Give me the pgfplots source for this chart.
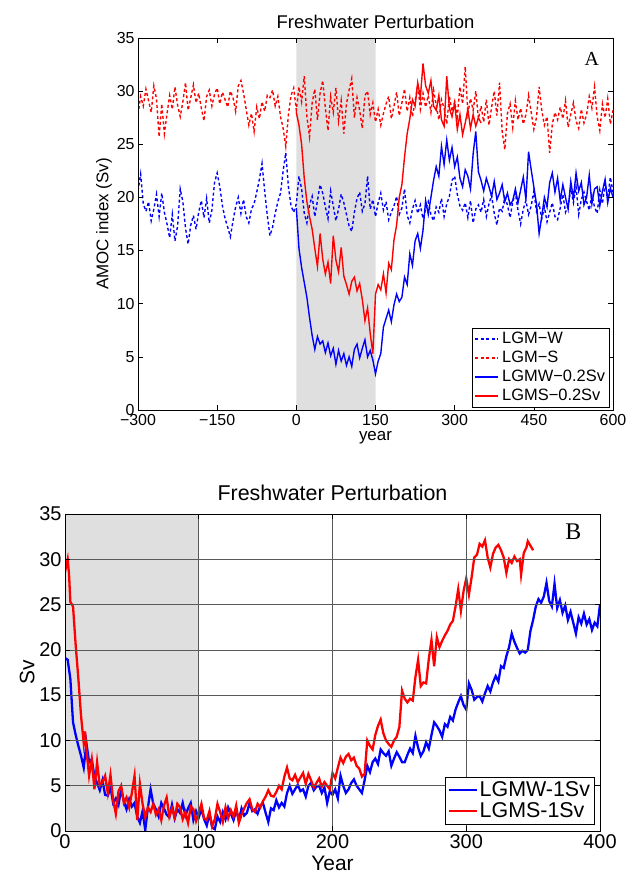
\documentclass[border=0pt]{standalone}
\usepackage{fontspec}
\setmainfont{Liberation Sans}
\newfontfamily\serifletter{Liberation Serif}
\usepackage{pgfplots}
\pgfplotsset{compat=1.18}
\definecolor{shade}{gray}{0.875}
\definecolor{mblue}{rgb}{0,0,1}
\definecolor{mred}{rgb}{1,0,0}

\begin{document}
\begin{tikzpicture}
\useasboundingbox (0bp,0bp) rectangle (631bp,875bp);

% ---------------- panel A ----------------
\begin{axis}[
  at={(138bp,465bp)}, anchor=south west,
  scale only axis, width=475bp, height=372bp,
  xmin=-300, xmax=600, ymin=0, ymax=35,
  xtick={-300,-150,0,150,300,450,600},
  xticklabels={−300,−150,0,150,300,450,600},
  ytick={0,5,...,35},
  tick align=inside, major tick length=5bp,
  axis line style={line width=0.8pt}, every tick/.style={black, line width=0.6pt},
  /pgf/number format/assume math mode=true,
  tick label style={font=\fontsize{16}{18}\selectfont},
  xticklabel style={yshift=-1bp},
  title={Freshwater Perturbation},
  title style={font=\fontsize{18.5}{20}\selectfont, yshift=0bp},
  xlabel={year}, ylabel={AMOC index (Sv)},
  label style={font=\fontsize{17}{19}\selectfont},
  xlabel style={yshift=1bp}, ylabel style={yshift=-2bp},
  axis on top,
  legend cell align=left,
  legend style={at={(rel axis cs:0.993,0.008)}, anchor=south east,
    font=\fontsize{16.5}{18}\selectfont, row sep=2bp, inner sep=2.5bp,
    /tikz/every odd column/.append style={column sep=1bp}},
  legend image code/.code={\draw[#1, line width=1.6bp] (0bp,0bp) -- (23bp,0bp);},
]
\addplot[fill=shade, draw=none, forget plot] coordinates {(0,0) (0,35) (150,35) (150,0)} \closedcycle;

% LGM-W
\addplot[draw=mblue, line width=1.4pt, dash pattern=on 3bp off 2.5bp] coordinates {
(-300,20.6)(-295,22.2)(-290,19.4)(-285,18.7)(-280,19.6)(-275,17.8)(-270,18.9)(-265,20.3)(-260,18.2)(-255,20.4)
(-250,18.6)(-245,17.5)(-240,16.2)(-235,18.4)(-230,15.9)(-225,17.3)(-220,20.8)(-215,19.6)(-210,17.1)(-205,15.6)
(-200,17.4)(-195,18.3)(-190,17.0)(-185,18.6)(-180,19.7)(-175,18.1)(-170,19.9)(-165,17.6)(-160,18.8)(-155,21.4)
(-150,22.3)(-145,21.0)(-140,19.2)(-135,18.0)(-130,17.2)(-125,16.3)(-120,17.8)(-115,19.1)(-110,20.0)(-105,18.5)
(-100,19.8)(-95,18.2)(-90,17.6)(-85,18.9)(-80,19.4)(-75,20.5)(-70,21.7)(-65,23.2)(-60,20.6)(-55,18.3)
(-50,16.4)(-45,17.2)(-40,18.5)(-35,19.6)(-30,20.4)(-25,22.5)(-20,24.2)(-15,21.0)(-10,19.2)(-5,18.6)
(0,19.4)(5,22.0)(10,20.8)(15,18.5)(20,17.6)(25,19.3)(30,20.1)(35,18.2)(40,19.7)(45,21.2)
(50,20.4)(55,19.1)(60,18.0)(65,20.6)(70,19.2)(75,17.8)(80,18.9)(85,20.3)(90,19.5)(95,18.4)
(100,17.3)(105,16.8)(110,18.6)(115,19.9)(120,20.5)(125,18.7)(130,19.4)(135,22.0)(140,18.9)(145,19.8)
(150,18.2)(155,19.5)(160,20.4)(165,18.8)(170,19.6)(175,17.9)(180,18.6)(185,19.2)(190,20.1)(195,18.4)
(200,19.0)(205,20.8)(210,18.3)(215,17.6)(220,18.9)(225,19.7)(230,18.5)(235,19.3)(240,18.0)(245,18.9)
(250,19.6)(255,18.4)(260,17.8)(265,19.1)(270,18.6)(275,19.9)(280,18.2)(285,19.4)(290,20.1)(295,21.6)
(300,22.0)(305,20.3)(310,19.2)(315,18.8)(320,19.5)(325,18.1)(330,19.7)(335,17.6)(340,18.9)(345,19.3)
(350,18.6)(355,19.8)(360,18.2)(365,19.4)(370,20.2)(375,18.5)(380,17.4)(385,19.0)(390,18.7)(395,20.0)
(400,19.3)(405,18.1)(410,19.6)(415,20.4)(420,18.8)(425,17.5)(430,18.9)(435,19.7)(440,18.4)(445,19.2)
(450,20.6)(455,18.7)(460,19.4)(465,18.0)(470,19.1)(475,17.7)(480,18.6)(485,19.5)(490,18.2)(495,17.9)
(500,19.0)(505,20.3)(510,18.6)(515,19.2)(520,20.8)(525,19.5)(530,21.0)(535,18.4)(540,19.8)(545,20.5)
(550,19.6)(555,18.8)(560,20.2)(565,19.1)(570,18.5)(575,20.7)(580,19.4)(585,21.3)(590,20.0)(595,21.9)(600,20.5)
};
\addlegendentry{LGM−W}

% LGM-S
\addplot[draw=mred, line width=1.4pt, dash pattern=on 3bp off 2.5bp] coordinates {
(-300,27.8)(-295,29.5)(-290,28.6)(-285,30.2)(-280,29.1)(-275,28.0)(-270,30.5)(-265,29.3)(-260,25.7)(-255,28.8)
(-250,26.0)(-245,27.9)(-240,29.6)(-235,28.3)(-230,30.4)(-225,28.7)(-220,27.6)(-215,29.0)(-210,30.8)(-205,28.2)
(-200,29.4)(-195,30.6)(-190,28.9)(-185,29.8)(-180,28.4)(-175,27.2)(-170,29.5)(-165,30.1)(-160,28.6)(-155,29.7)
(-150,30.3)(-145,28.8)(-140,29.9)(-135,29.2)(-130,28.5)(-125,30.0)(-120,29.4)(-115,28.1)(-110,30.5)(-105,31.0)
(-100,29.8)(-95,28.3)(-90,26.8)(-85,27.9)(-80,26.2)(-75,28.5)(-70,27.4)(-65,29.0)(-60,28.1)(-55,29.6)
(-50,29.4)(-45,30.1)(-40,28.6)(-35,29.5)(-30,27.6)(-25,26.5)(-20,24.8)(-15,27.8)(-10,29.6)(-5,30.3)
(0,28.2)(5,30.4)(10,29.0)(15,31.4)(20,27.6)(25,25.7)(30,28.9)(35,30.2)(40,27.3)(45,29.8)
(50,31.0)(55,28.4)(60,26.3)(65,29.5)(70,28.0)(75,30.3)(80,27.2)(85,29.1)(90,26.0)(95,28.8)
(100,30.1)(105,31.2)(110,27.5)(115,29.4)(120,28.2)(125,26.5)(130,29.6)(135,30.0)(140,27.8)(145,28.9)
(150,27.1)(155,28.3)(160,26.8)(165,27.9)(170,28.8)(175,29.5)(180,27.4)(185,28.6)(190,29.9)(195,27.7)
(200,28.9)(205,30.2)(210,28.1)(215,29.4)(220,27.6)(225,29.0)(230,30.6)(235,28.3)(240,29.8)(245,28.5)
(250,29.6)(255,28.0)(260,30.1)(265,28.7)(270,27.3)(275,29.2)(280,28.4)(285,26.9)(290,29.5)(295,28.1)
(300,29.0)(305,27.6)(310,30.4)(315,28.8)(320,32.3)(325,27.9)(330,29.3)(335,28.2)(340,30.0)(345,27.4)
(350,28.6)(355,27.1)(360,29.2)(365,26.8)(370,28.5)(375,30.0)(380,27.7)(385,30.8)(390,26.2)(395,24.5)
(400,27.9)(405,28.8)(410,26.6)(415,29.1)(420,27.3)(425,28.4)(430,26.9)(435,27.8)(440,29.6)(445,28.0)
(450,26.4)(455,27.5)(460,30.4)(465,28.2)(470,26.8)(475,27.6)(480,24.2)(485,26.9)(490,28.0)(495,27.3)
(500,28.5)(505,27.4)(510,29.1)(515,26.6)(520,27.8)(525,28.9)(530,27.2)(535,26.5)(540,28.3)(545,27.0)
(550,27.8)(555,29.5)(560,28.4)(565,30.4)(570,27.6)(575,26.3)(580,28.8)(585,27.5)(590,29.3)(595,26.9)(600,28.2)
};
\addlegendentry{LGM−S}

% LGMW-0.2Sv
\addplot[draw=mblue, line width=1.4pt] coordinates {
(0,19.0)(5,15.2)(10,13.4)(15,12.0)(20,10.6)(25,8.7)(30,7.0)(35,5.7)(40,6.9)(45,6.2)
(50,6.5)(55,5.4)(60,6.3)(65,5.1)(70,5.8)(75,4.3)(80,5.6)(85,4.6)(90,5.3)(95,4.2)
(100,5.0)(105,4.1)(110,5.7)(115,6.2)(120,4.9)(125,5.8)(130,6.6)(135,5.0)(140,5.6)(145,4.7)
(150,3.4)(155,4.6)(160,5.3)(165,7.8)(170,8.6)(175,9.4)(180,8.3)(185,9.9)(190,10.9)(195,10.2)
(200,10.6)(205,12.5)(210,11.8)(215,14.7)(220,13.6)(225,15.9)(230,16.6)(235,15.2)(240,16.9)(245,19.7)
(250,18.4)(255,20.0)(260,21.6)(265,22.9)(270,22.0)(275,24.8)(280,23.1)(285,25.4)(290,23.5)(295,24.7)
(300,22.9)(305,23.8)(310,21.8)(315,21.0)(320,22.6)(325,22.0)(330,20.8)(335,24.1)(340,26.2)(345,22.4)
(350,21.6)(355,20.6)(360,21.8)(365,21.0)(370,20.1)(375,21.5)(380,19.8)(385,20.4)(390,21.2)(395,19.6)
(400,20.4)(405,19.3)(410,19.7)(415,20.8)(420,19.5)(425,20.7)(430,21.9)(435,19.8)(440,24.3)(445,22.6)
(450,21.0)(455,19.4)(460,16.6)(465,18.2)(470,20.0)(475,19.1)(480,21.4)(485,22.3)(490,20.5)(495,21.8)
(500,19.7)(505,21.2)(510,20.0)(515,18.9)(520,21.5)(525,19.9)(530,22.3)(535,20.6)(540,21.4)(545,19.3)
(550,20.0)(555,22.1)(560,19.4)(565,20.8)(570,21.0)(575,19.2)(580,20.6)(585,21.7)(590,19.5)(595,20.9)(600,20.0)
};
\addlegendentry{LGMW−0.2Sv}

% LGMS-0.2Sv
\addplot[draw=mred, line width=1.4pt] coordinates {
(0,28.0)(5,26.8)(10,25.0)(15,21.8)(20,19.6)(25,18.2)(30,17.0)(35,15.2)(40,13.5)(45,16.6)
(50,14.2)(55,12.8)(60,13.9)(65,11.9)(70,16.4)(75,14.1)(80,13.0)(85,15.3)(90,12.6)(95,11.8)
(100,10.9)(105,12.1)(110,12.5)(115,11.2)(120,11.9)(125,10.4)(130,8.4)(135,9.6)(140,7.2)(145,5.3)
(150,10.9)(155,11.8)(160,11.3)(165,12.8)(170,11.0)(175,13.8)(180,13.2)(185,16.0)(190,17.4)(195,20.0)
(200,21.2)(205,23.8)(210,26.0)(215,27.4)(220,29.2)(225,28.6)(230,30.8)(235,29.4)(240,32.6)(245,30.5)
(250,29.8)(255,31.0)(260,28.6)(265,28.2)(270,29.6)(275,27.3)(280,26.7)(285,31.4)(290,28.4)(295,27.6)
(300,28.9)(305,26.4)(310,27.8)(315,25.9)(320,27.0)(325,28.3)(330,26.5)(335,27.8)(340,26.7)(345,27.5)(350,27.0)
};
\addlegendentry{LGMS−0.2Sv}

\node[font=\serifletter\fontsize{20}{22}\selectfont] at (axis cs:560,33.0) {A};
\end{axis}

% ---------------- panel B ----------------
\begin{axis}[
  at={(65bp,44bp)}, anchor=south west,
  scale only axis, width=535bp, height=317bp,
  xmin=0, xmax=400, ymin=0, ymax=35,
  xtick={0,100,...,400}, ytick={0,5,...,35},
  grid=major, grid style={gray!70!black, line width=0.6pt},
  tick align=inside, major tick length=5bp,
  axis line style={line width=0.8pt}, every tick/.style={black, line width=0.6pt},
  /pgf/number format/assume math mode=true,
  tick label style={font=\fontsize{20}{22}\selectfont},
  title={Freshwater Perturbation},
  title style={font=\fontsize{21.5}{23}\selectfont, yshift=4bp},
  xlabel={Year}, ylabel={Sv},
  label style={font=\fontsize{21}{23}\selectfont},
  xlabel style={yshift=-1bp}, ylabel style={yshift=-2bp},
  axis on top,
  legend cell align=left,
  legend style={at={(rel axis cs:0.99,0.022)}, anchor=south east,
    font=\fontsize{21.5}{23}\selectfont, row sep=1bp, inner sep=2.5bp},
  legend image code/.code={\draw[#1] (0bp,0bp) -- (28bp,0bp);},
]
\addplot[fill=shade, draw=none, forget plot] coordinates {(0,0) (0,35) (100,35) (100,0)} \closedcycle;

% LGMW-1Sv
\addplot[draw=mblue, line width=2.3pt] coordinates {
(0,19.1)(2,18.9)(4,16.8)(6,12.0)(8,10.6)(10,9.4)(12,8.3)(14,7.0)(16,9.7)(18,7.6)
(20,7.9)(22,6.0)(24,5.3)(26,4.5)(28,5.6)(30,4.0)(32,3.9)(34,4.8)(36,3.1)(38,3.6)
(40,2.9)(42,4.6)(44,3.3)(46,2.4)(48,3.5)(50,2.7)(52,3.1)(54,1.6)(56,0.9)(58,2.2)
(60,0.1)(62,2.6)(64,4.6)(66,3.0)(68,2.4)(70,1.6)(72,3.1)(74,2.5)(76,1.8)(78,1.5)
(80,2.9)(82,1.4)(84,2.4)(86,2.0)(88,3.1)(90,1.7)(92,2.5)(94,3.1)(96,1.2)(98,2.2)
(100,1.5)(102,2.4)(104,1.3)(106,0.6)(108,1.9)(110,0.4)(112,0.2)(114,1.6)(116,1.0)(118,2.1)
(120,1.3)(122,2.6)(124,1.9)(126,1.2)(128,2.3)(130,1.2)(132,2.5)(134,1.7)(136,2.0)(138,3.1)
(140,2.2)(142,2.4)(144,1.9)(146,2.8)(148,3.1)(150,2.0)(152,1.0)(154,2.5)(156,2.3)(158,3.4)
(160,2.6)(162,3.1)(164,2.7)(166,4.2)(168,5.0)(170,4.1)(172,4.6)(174,5.1)(176,4.4)(178,4.6)
(180,3.8)(182,5.0)(184,5.3)(186,4.5)(188,4.9)(190,5.0)(192,4.2)(194,4.8)(196,3.1)(198,4.4)
(200,4.0)(202,4.6)(204,3.6)(206,6.1)(208,5.0)(210,4.2)(212,4.6)(214,5.3)(216,5.7)(218,5.0)
(220,4.6)(222,4.2)(224,5.6)(226,7.2)(228,6.5)(230,7.6)(232,8.0)(234,7.4)(236,9.0)(238,8.6)
(240,8.3)(242,8.8)(244,7.2)(246,8.0)(248,8.7)(250,8.2)(252,7.6)(254,7.6)(256,8.4)(258,9.1)
(260,8.6)(262,10.5)(264,9.2)(266,8.3)(268,8.8)(270,9.8)(272,9.1)(274,10.6)(276,12.0)(278,11.6)
(280,11.1)(282,10.4)(284,11.8)(286,11.5)(288,12.6)(290,12.2)(292,13.4)(294,14.2)(296,14.9)(298,13.9)
(300,13.4)(302,16.3)(304,15.6)(306,14.5)(308,14.8)(310,14.9)(312,14.3)(314,15.2)(316,16.0)(318,15.4)
(320,16.4)(322,17.1)(324,16.5)(326,18.2)(328,18.0)(330,19.3)(332,20.3)(334,21.8)(336,20.9)(338,20.2)
(340,19.6)(342,19.9)(344,19.7)(346,20.0)(348,22.1)(350,23.3)(352,24.8)(354,25.6)(356,25.2)(358,25.9)
(360,27.4)(362,25.4)(364,24.8)(366,27.3)(368,24.6)(370,25.5)(372,24.1)(374,24.9)(376,23.3)(378,24.2)
(380,23.0)(382,21.8)(384,23.6)(386,22.9)(388,24.0)(390,22.8)(392,23.4)(394,22.2)(396,23.0)(398,22.6)(400,25.0)
};
\addlegendentry{LGMW-1Sv}

% LGMS-1Sv
\addplot[draw=mred, line width=2.3pt] coordinates {
(0,28.6)(2,30.0)(3,28.4)(4,25.3)(6,24.8)(8,20.5)(10,16.8)(12,12.7)(14,9.7)(15,11.0)
(16,9.0)(18,6.1)(20,7.9)(22,4.6)(24,7.6)(26,5.0)(28,5.4)(30,6.1)(32,4.2)(34,6.2)
(36,3.4)(38,1.9)(40,4.4)(42,5.0)(44,3.1)(46,3.7)(48,2.6)(50,4.2)(52,6.1)(54,1.2)
(56,5.2)(58,3.0)(60,1.5)(62,2.6)(64,2.1)(66,3.0)(68,1.8)(70,2.4)(72,1.2)(74,2.8)
(76,3.7)(78,1.6)(80,2.5)(82,1.5)(84,3.0)(86,2.6)(88,1.3)(90,2.1)(92,0.9)(94,2.7)
(96,2.4)(98,1.1)(100,2.0)(102,3.0)(104,1.4)(106,1.2)(108,2.2)(110,0.5)(112,1.3)(114,3.0)
(116,2.1)(118,1.0)(120,2.6)(122,1.4)(124,2.3)(126,1.6)(128,2.8)(130,0.9)(132,1.8)(134,2.5)
(136,3.1)(138,3.5)(140,2.4)(142,2.1)(144,3.0)(146,2.6)(148,3.3)(150,3.8)(152,4.5)(154,3.9)
(156,3.8)(158,4.3)(160,5.0)(162,4.6)(164,6.0)(166,7.0)(168,5.8)(170,5.6)(172,6.2)(174,5.4)
(176,5.9)(178,6.4)(180,5.2)(182,6.3)(184,5.6)(186,4.8)(188,5.3)(190,5.8)(192,4.9)(194,5.4)
(196,5.0)(198,4.6)(200,6.4)(202,5.8)(204,7.0)(206,8.1)(208,7.5)(210,8.2)(212,8.5)(214,7.8)
(216,8.1)(218,7.2)(220,6.9)(222,6.0)(224,6.3)(226,10.0)(228,9.4)(230,9.0)(232,10.6)(234,11.6)
(236,12.3)(238,10.8)(240,10.0)(242,9.6)(244,9.3)(246,10.0)(248,10.4)(250,11.5)(252,15.5)(254,14.6)
(256,14.2)(258,14.6)(260,14.4)(262,17.0)(264,18.9)(266,16.0)(268,16.4)(270,16.3)(272,19.0)(274,21.1)
(276,18.2)(278,21.4)(280,20.3)(282,21.0)(284,21.6)(286,22.1)(288,22.8)(290,23.2)(292,24.8)(294,26.7)
(296,24.3)(298,26.5)(300,27.9)(302,26.1)(304,28.0)(306,30.2)(308,30.5)(310,31.7)(312,31.4)(314,32.1)
(316,30.2)(318,29.1)(320,30.6)(322,31.3)(324,31.6)(326,31.0)(328,30.2)(330,28.5)(332,30.0)(334,29.6)
(336,30.3)(338,29.8)(340,30.0)(341,28.3)(343,30.7)(345,31.3)(346,32.0)(348,31.5)(350,31.0)
};
\addlegendentry{LGMS-1Sv}

\node[font=\serifletter\fontsize{24}{26}\selectfont] at (axis cs:380,33.0) {B};
\end{axis}
\end{tikzpicture}
\end{document}
